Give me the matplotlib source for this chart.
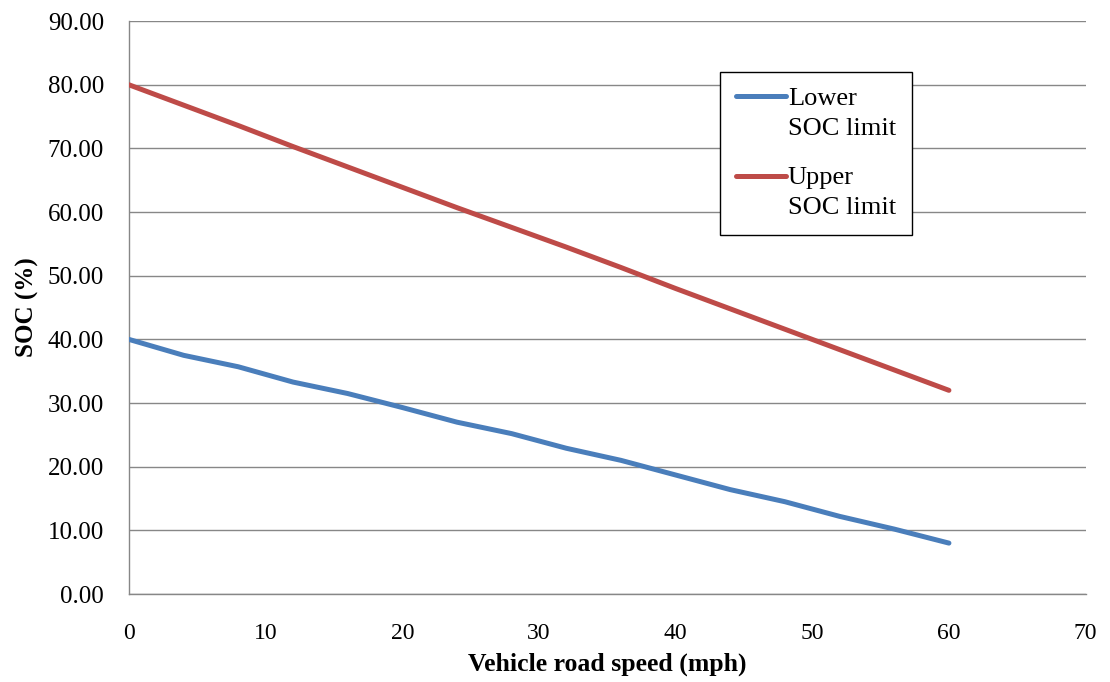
import matplotlib
matplotlib.use("Agg")
import matplotlib.pyplot as plt
from matplotlib.legend_handler import HandlerLine2D
from matplotlib.ticker import FormatStrFormatter

plt.rcParams["font.family"] = ["Liberation Serif", "DejaVu Serif"]

# Vehicle road speed (mph)
speed = [0, 4, 8, 12, 16, 20, 24, 28, 32, 36, 40, 44, 48, 52, 56, 60]
# SOC limits (%)
lower_soc = [40.0, 37.5, 35.7, 33.3, 31.5, 29.3, 27.0, 25.2, 22.9, 21.0,
             18.7, 16.4, 14.5, 12.2, 10.2, 8.0]
upper_soc = [80.0, 76.8, 73.6, 70.3, 67.1, 63.9, 60.7, 57.6, 54.5, 51.3,
             48.0, 44.8, 41.6, 38.4, 35.2, 32.0]

x_ticks = [0, 10, 20, 30, 40, 50, 60, 70]
y_ticks = [0, 10, 20, 30, 40, 50, 60, 70, 80, 90]

BLUE = "#4A7EBB"
RED = "#BE4B48"
GRID = "#878787"

fig = plt.figure(figsize=(11.10, 6.82), dpi=100)
ax = fig.add_axes([0.1162, 0.129, 0.8618, 0.840])

ax.plot(speed, lower_soc, color=BLUE, lw=3.6, solid_capstyle="round",
        label="Lower\nSOC limit", zorder=3)
ax.plot(speed, upper_soc, color=RED, lw=3.6, solid_capstyle="round",
        label="Upper\nSOC limit", zorder=3)

ax.set_xlim(0, 70)
ax.set_ylim(0, 90)
ax.set_xticks(x_ticks)
ax.set_yticks(y_ticks)
ax.yaxis.set_major_formatter(FormatStrFormatter("%.2f"))
ax.tick_params(axis="both", length=0, colors="black")
ax.tick_params(axis="x", pad=21, labelsize=17)
ax.tick_params(axis="y", pad=18, labelsize=18)

ax.grid(axis="y", color=GRID, lw=1.0)
ax.set_axisbelow(True)
for side in ("top", "right"):
    ax.spines[side].set_visible(False)
for side in ("left", "bottom"):
    ax.spines[side].set_color(GRID)
    ax.spines[side].set_linewidth(1.0)

ax.set_xlabel("Vehicle road speed (mph)", fontsize=18.5, fontweight="bold",
              labelpad=6)
ax.set_ylabel("SOC (%)", fontsize=18, fontweight="bold", labelpad=6)

LEG_FS = 19
LINE_SP = 1.45
HANDLE_SHIFT = 12  # points


class FirstLineHandler(HandlerLine2D):
    """Place the legend line next to the first line of a two-line label."""

    def create_artists(self, legend, orig_handle, xdescent, ydescent,
                       width, height, fontsize, trans):
        artists = super().create_artists(legend, orig_handle, xdescent,
                                         ydescent, width, height, fontsize,
                                         trans)
        for a in artists:
            yd = a.get_ydata()
            a.set_ydata([v + HANDLE_SHIFT for v in yd])
        return artists


leg = ax.legend(loc="upper left", bbox_to_anchor=(0.6176, 0.911),
                fontsize=LEG_FS, frameon=True, fancybox=False,
                edgecolor="black", framealpha=1, handlelength=1.9,
                handletextpad=0.08, labelspacing=1.05, borderpad=0.6,
                borderaxespad=0,
                handler_map={matplotlib.lines.Line2D: FirstLineHandler()})
leg.get_frame().set_linewidth(1.0)
for t in leg.get_texts():
    t.set_linespacing(LINE_SP)

fig.savefig("out.png", dpi=100)
